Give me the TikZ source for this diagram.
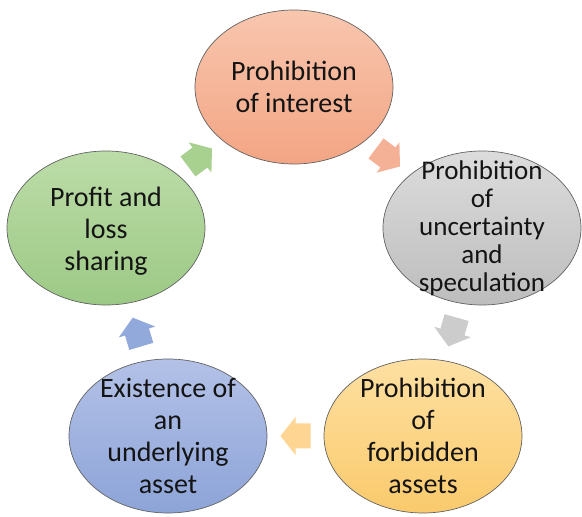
\documentclass[tikz,border=0pt]{standalone}
\usepackage{fontspec}
\setmainfont{Carlito}
\usetikzlibrary{calc,shapes.geometric}

\definecolor{salmonTop}{HTML}{F8C6AE}
\definecolor{salmonBot}{HTML}{F3A584}
\definecolor{greyTop}{HTML}{DCDCDC}
\definecolor{greyBot}{HTML}{BDBDBD}
\definecolor{goldTop}{HTML}{FEE0A2}
\definecolor{goldBot}{HTML}{FACA6C}
\definecolor{blueTop}{HTML}{B3C1E7}
\definecolor{blueBot}{HTML}{8DA4D8}
\definecolor{greenTop}{HTML}{BCDCA8}
\definecolor{greenBot}{HTML}{9CC985}

\definecolor{salmonArrow}{HTML}{F5B196}
\definecolor{greyArrow}{HTML}{CCCCCC}
\definecolor{goldArrow}{HTML}{FED592}
\definecolor{blueArrow}{HTML}{92A9DC}
\definecolor{greenArrow}{HTML}{A8D08F}

\begin{document}
\begin{tikzpicture}[x=1pt,y=1pt,
  bubble/.style={ellipse, draw=black!62, line width=0.7pt,
    minimum width=198pt, minimum height=154pt, inner sep=0pt},
  caption/.style={align=center, inner sep=0pt, text=black!92,
    font=\fontsize{28}{32}\selectfont},
  tightcaption/.style={caption, font=\fontsize{27}{28}\selectfont},
  cyclearrow/.pic={
    \path[pic actions] (-15,-12.5) -- (0,-12.5) -- (0,-19) -- (15,0)
      -- (0,19) -- (0,12.5) -- (-15,12.5) -- cycle;
  }
]
\useasboundingbox (0,0) rectangle (582,517);

% five stages of the cycle
\node[bubble, top color=salmonTop, bottom color=salmonBot] (interest) at (294,430) {};
\node[bubble, top color=greyTop, bottom color=greyBot] (uncertainty) at (482,289) {};
\node[bubble, top color=goldTop, bottom color=goldBot] (forbidden) at (423,81) {};
\node[bubble, top color=blueTop, bottom color=blueBot] (asset) at (168,81) {};
\node[bubble, top color=greenTop, bottom color=greenBot] (sharing) at (106,289) {};

% captions
\node[caption] (interest-t) at (interest) {Prohibition\\of interest};
\node[tightcaption] (uncertainty-t) at (uncertainty) {Prohibition\\of\\uncertainty\\and\\speculation};
\node[caption] (forbidden-t) at (forbidden) {Prohibition\\of\\forbidden\\assets};
\node[caption] (asset-t) at (asset) {Existence of\\an\\underlying\\asset};
\node[caption] (sharing-t) at ([yshift=-3pt]sharing) {Profit and\\loss\\sharing};

% block arrows halfway between neighbouring stages, pointing clockwise
\foreach \a/\b/\c in {interest/uncertainty/salmonArrow,
                      uncertainty/forbidden/greyArrow,
                      forbidden/asset/goldArrow,
                      asset/sharing/blueArrow,
                      sharing/interest/greenArrow}{
  \path let \p1=($(\b)-(\a)$), \n1={atan2(\y1,\x1)} in
    ($(\a)!0.5!(\b)$) pic[rotate=\n1, fill=\c] {cyclearrow};
}
\end{tikzpicture}
\end{document}
